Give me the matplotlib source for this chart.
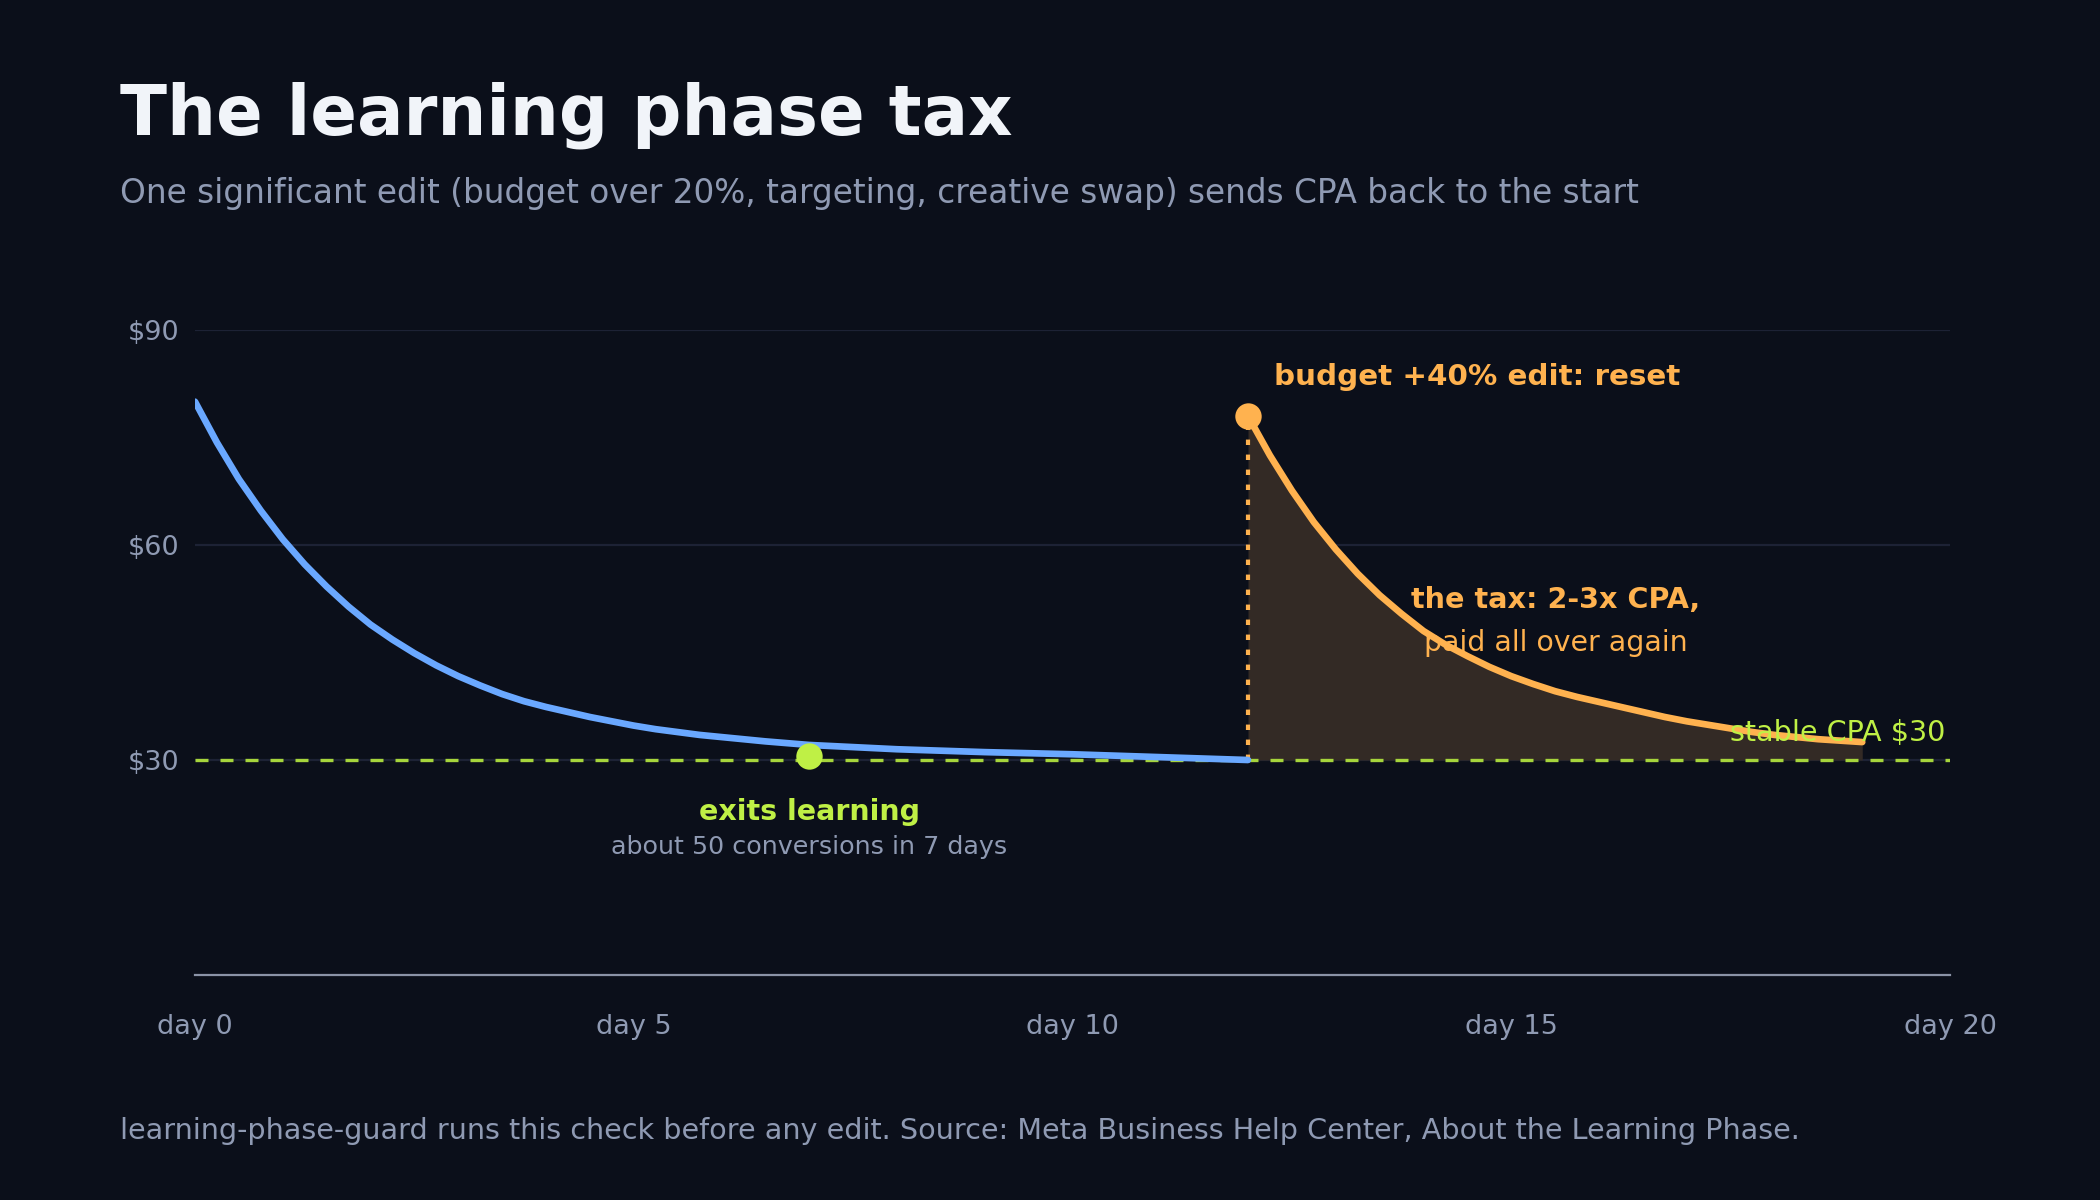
import matplotlib
matplotlib.use("Agg")
import matplotlib.pyplot as plt

plt.rcParams['font.family'] = ['DejaVu Sans']

# ---- data ----
blue_days = [0, 0.25, 0.5, 0.75, 1, 1.25, 1.5, 1.75, 2, 2.25, 2.5, 2.75, 3, 3.25, 3.5, 3.75,
             4, 4.25, 4.5, 4.75, 5, 5.25, 5.5, 5.75, 6, 6.5, 7, 7.5, 8, 8.5, 9,
             9.5, 10, 10.5, 11, 11.5, 12]
blue_cpa = [80.0, 74.3, 69.2, 64.8, 60.8, 57.3, 54.2, 51.4, 48.9, 46.8, 44.9, 43.2, 41.7,
            40.4, 39.2, 38.2, 37.4, 36.7, 36.0, 35.4, 34.8, 34.3, 33.9, 33.5, 33.2,
            32.6, 32.1, 31.8, 31.5, 31.3, 31.1, 30.95, 30.8, 30.6, 30.4, 30.2, 30.0]
reset_days = [12, 12.25, 12.5, 12.75, 13, 13.25, 13.5, 13.75, 14, 14.25, 14.5, 14.75, 15,
              15.25, 15.5, 15.75, 16, 16.25, 16.5, 16.75, 17, 17.25, 17.5, 17.75, 18,
              18.25, 18.5, 18.75, 19]
reset_cpa = [78.0, 72.5, 67.6, 63.2, 59.4, 56.0, 53.0, 50.4, 48.0, 46.1, 44.5, 43.0, 41.7,
             40.6, 39.6, 38.8, 38.1, 37.4, 36.7, 36.0, 35.4, 34.9, 34.4, 33.9, 33.5,
             33.2, 32.9, 32.7, 32.5]
stable_cpa = 30
exit_day, exit_cpa = 7, 30.5
edit_day, edit_cpa = 12, 78
y_ticks = [30, 60, 90]
y_labels = ['$30', '$60', '$90']
x_ticks = [0, 5, 10, 15, 20]
x_labels = ['day 0', 'day 5', 'day 10', 'day 15', 'day 20']

BG = '#0b0f1a'
BLUE = '#6aa8ff'
ORANGE = '#ffb24f'
GREEN_LINE = '#a6d43c'
GREEN = '#bff045'
MUTED = '#8f9ab3'
GRID = '#1d2235'
FILL = '#332a25'

fig = plt.figure(figsize=(21, 12), dpi=100, facecolor=BG)
ax = fig.add_axes([195/2100, 1 - 975/1200, (1950-195)/2100, (975-330)/1200])
ax.set_facecolor(BG)
ax.set_xlim(0, 20)
ax.set_ylim(0, 90)

for y in y_ticks:
    ax.axhline(y, color=GRID, lw=1.6, zorder=1)

ax.axhline(stable_cpa, color=GREEN_LINE, lw=2.4, linestyle=(0, (3.9, 3.6)), zorder=2)

ax.fill_between(reset_days, [stable_cpa]*len(reset_days), reset_cpa, color=FILL, lw=0, zorder=1.5)
ax.plot([edit_day, edit_day], [stable_cpa, edit_cpa], color=ORANGE, lw=3.0,
        linestyle=(0, (1.3, 2.3)), zorder=3)

ax.plot(blue_days, blue_cpa, color=BLUE, lw=4.8, solid_capstyle='round',
        solid_joinstyle='round', zorder=4)
ax.plot(reset_days, reset_cpa, color=ORANGE, lw=4.8, solid_capstyle='round',
        solid_joinstyle='round', zorder=4)

ax.plot([exit_day], [exit_cpa], 'o', ms=19, color=GREEN, mec='none', zorder=5)
ax.plot([edit_day], [edit_cpa], 'o', ms=19, color=ORANGE, mec='none', zorder=5)

for s in ['top', 'right', 'left']:
    ax.spines[s].set_visible(False)
ax.spines['bottom'].set_color('#8b93a7')
ax.spines['bottom'].set_linewidth(1.6)

ax.set_yticks(y_ticks)
ax.set_yticklabels(y_labels)
ax.set_xticks(x_ticks)
ax.set_xticklabels(x_labels)
ax.tick_params(axis='both', length=0, colors=MUTED, labelsize=19.5)
ax.tick_params(axis='y', pad=11)
ax.tick_params(axis='x', pad=28)

# annotations
ax.text(12.3, 83.4, 'budget +40% edit: reset', color=ORANGE, fontsize=21.2,
        fontweight='bold', ha='left', va='center', zorder=6)
ax.text(15.51, 52.3, 'the tax: 2-3x CPA,', color=ORANGE, fontsize=20.6,
        fontweight='bold', ha='center', va='center', zorder=6)
ax.text(15.51, 46.3, 'paid all over again', color=ORANGE, fontsize=20.4,
        ha='center', va='center', zorder=6)
ax.text(19.95, 33.8, 'stable CPA $30', color=GREEN, fontsize=20.6,
        ha='right', va='center', zorder=6)
ax.text(exit_day, 22.8, 'exits learning', color=GREEN, fontsize=20.5,
        fontweight='bold', ha='center', va='center', zorder=6)
ax.text(exit_day, 17.8, 'about 50 conversions in 7 days', color=MUTED, fontsize=18.3,
        ha='center', va='center', zorder=6)

fig.text(120/2100, 1 - 115/1200, 'The learning phase tax', color='#f1f4f9',
         fontsize=49.6, fontweight='bold', ha='left', va='center')
fig.text(120/2100, 1 - 193/1200,
         'One significant edit (budget over 20%, targeting, creative swap) sends CPA back to the start',
         color=MUTED, fontsize=23.6, ha='left', va='center')
fig.text(120/2100, 1 - 1131/1200,
         'learning-phase-guard runs this check before any edit. Source: Meta Business Help Center, About the Learning Phase.',
         color=MUTED, fontsize=20.6, ha='left', va='center')

fig.savefig('out.png', dpi=100, facecolor=BG)
